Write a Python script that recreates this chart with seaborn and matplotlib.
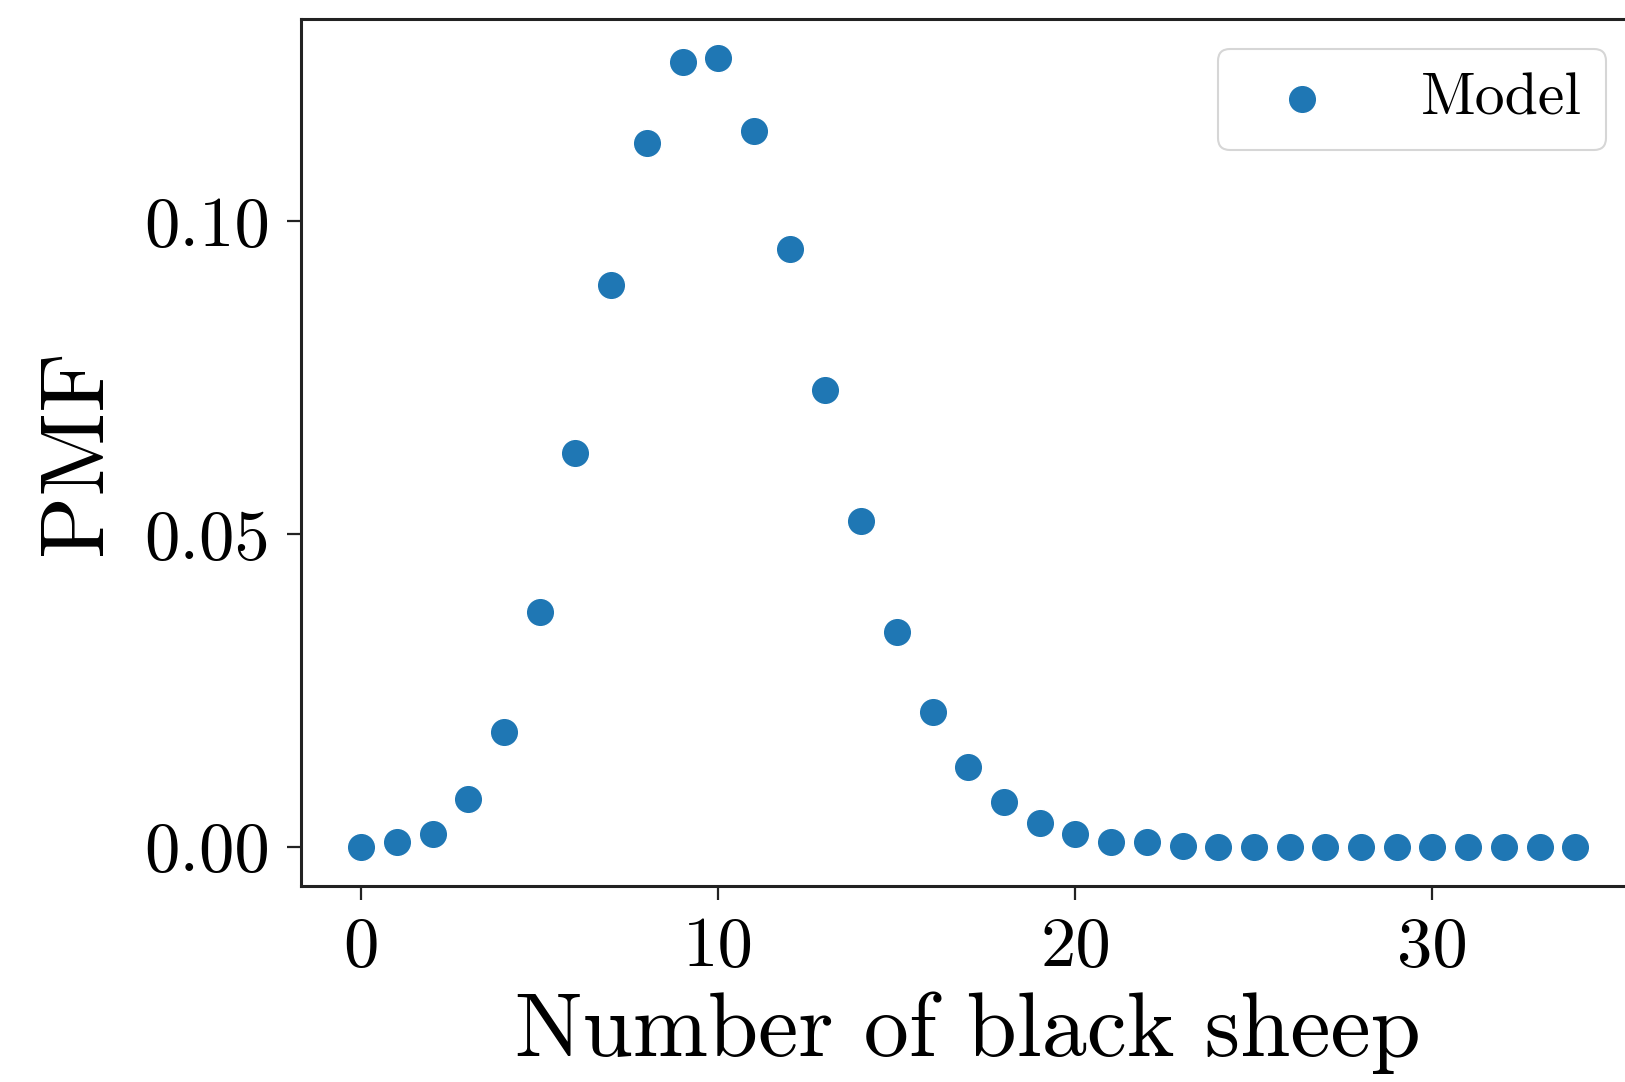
import matplotlib
matplotlib.use("Agg")
import matplotlib.pyplot as plt
import seaborn as sns
import pandas as pd

# Data
black_sheep = list(range(0, 35))
pmf = [0.0000, 0.0007, 0.0020, 0.0076, 0.0183, 0.0375, 0.0629, 0.0898, 0.1125,
       0.1254, 0.1261, 0.1145, 0.0955, 0.0731, 0.0521, 0.0343, 0.0216, 0.0127,
       0.0071, 0.0038, 0.0020, 0.0008, 0.0007, 0.0001, 0.0000, 0.0000, 0.0000,
       0.0000, 0.0000, 0.0000, 0.0000, 0.0000, 0.0000, 0.0000, 0.0000]
xticks = [0, 10, 20, 30]
yticks = [0.00, 0.05, 0.10]
ytick_labels = ["0.00", "0.05", "0.10"]

sns.set_style("ticks")
plt.rcParams['font.family'] = ['cmr10', 'DejaVu Serif']
plt.rcParams['axes.formatter.use_mathtext'] = True
plt.rcParams['text.color'] = 'black'
plt.rcParams['axes.labelcolor'] = 'black'
plt.rcParams['xtick.color'] = 'black'
plt.rcParams['ytick.color'] = 'black'

df = pd.DataFrame({"n": black_sheep, "pmf": pmf})

fig = plt.figure(figsize=(16.25, 10.82), dpi=100)
ax = fig.add_axes([300.5 / 1625, 1 - 886 / 1082, (1636 - 300.5) / 1625, (886 - 18.7) / 1082])

sns.scatterplot(data=df, x="n", y="pmf", ax=ax, s=420, color="#1f77b4",
                edgecolor="white", linewidth=1.0, label="Model")

for side in ["top", "right", "left", "bottom"]:
    ax.spines[side].set_visible(True)
    ax.spines[side].set_linewidth(2.2)
    ax.spines[side].set_color("#222222")

ax.set_xticks(xticks)
ax.set_xticklabels([str(t) for t in xticks])
ax.set_yticks(yticks)
ax.set_yticklabels(ytick_labels)
ax.tick_params(axis="both", labelsize=51, length=10, width=1.6, color="#222222", pad=12)
ax.set_xlabel("Number of black sheep", fontsize=65, labelpad=8)
ax.set_ylabel("PMF", fontsize=66, labelpad=18)
ax.set_xlim(-1.7, 35.7)
ax.set_ylim(-0.0063, 0.1324)

leg = ax.legend(loc="upper right", fontsize=43, frameon=True, fancybox=True,
                handletextpad=1.0)
leg.get_frame().set_edgecolor("#cccccc")
leg.get_frame().set_linewidth(1.5)

fig.savefig("out.png", dpi=100)
